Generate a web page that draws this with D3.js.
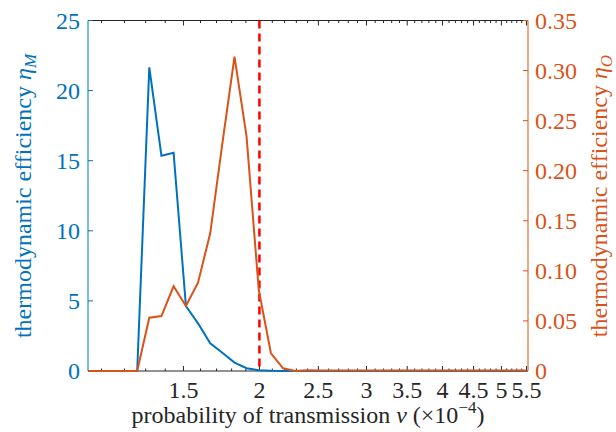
<!DOCTYPE html>
<html lang="en">
<head>
<meta charset="UTF-8">
<title>Thermodynamic efficiency vs probability of transmission</title>
<script src="https://d3js.org/d3.v7.min.js"></script>
<style>
    body { margin: 0; background: #fff; }
    text { font-family: "Liberation Serif", "Times New Roman", serif; }
</style>
</head>
<body>
<svg id="chart" width="616" height="432"></svg>
<script>
    // probability of transmission (x 1e-4), log-spaced samples
    const nu = [1.047, 1.096, 1.148, 1.202, 1.259, 1.318, 1.380, 1.445, 1.514, 1.585,
                1.660, 1.738, 1.820, 1.905, 1.995, 2.089, 2.188, 2.291, 2.399, 2.512,
                2.630, 2.754, 2.884, 3.020, 3.162, 3.311, 3.467, 3.631, 3.802, 3.981,
                4.169, 4.365, 4.571, 4.786, 5.012, 5.248, 5.495];
    // eta_M (left axis)
    const etaM = [0, 0, 0, 0, 0, 21.66, 15.36, 15.57, 4.64, 3.40,
                  1.97, 1.30, 0.60, 0.20, 0.05, 0.01, 0, 0, 0, 0,
                  0, 0, 0, 0, 0, 0, 0, 0, 0, 0,
                  0, 0, 0, 0, 0, 0, 0];
    // eta_O (right axis)
    const etaO = [0, 0, 0, 0, 0, 0.0532, 0.0549, 0.0846, 0.0649, 0.0882,
                  0.1375, 0.227, 0.314, 0.234, 0.0809, 0.0177, 0.0027, 0, 0.0008, 0.0005,
                  0.0005, 0.0005, 0.0005, 0.0005, 0.0005, 0.0005, 0.0005, 0.0005, 0.0005, 0.0005,
                  0.0005, 0.0005, 0.0005, 0.0005, 0.0005, 0.0005, 0.0005];
    const threshold = 2;

    const xTicks = [1.5, 2, 2.5, 3, 3.5, 4, 4.5, 5, 5.5];
    const xTickLabels = ["1.5", "2", "2.5", "3", "3.5", "4", "4.5", "5", "5.5"];
    const leftTicks = [0, 5, 10, 15, 20, 25];
    const rightTicks = [0, 0.05, 0.10, 0.15, 0.20, 0.25, 0.30, 0.35];
    const rightTickLabels = ["0", "0.05", "0.10", "0.15", "0.20", "0.25", "0.30", "0.35"];

    const blue = "#0072BD", orange = "#D95319", axisCol = "#262626";
    const L = 88, R = 528, T = 20.5, B = 371;

    const svg = d3.select("#chart");
    const x = d3.scaleLog().domain([1.045, 5.53]).range([L, R]);
    const yL = d3.scaleLinear().domain([0, 25]).range([B, T]);
    const yR = d3.scaleLinear().domain([0, 0.35]).range([B, T]);

    // minor ticks every 0.1
    const minor = d3.range(11, 56).map(d => d / 10).filter(d => !xTicks.includes(d));

    // bottom and top axes
    const gx = svg.append("g");
    gx.append("line").attr("x1", L).attr("x2", R).attr("y1", B).attr("y2", B)
        .attr("stroke", axisCol);
    gx.append("line").attr("x1", L).attr("x2", R).attr("y1", T).attr("y2", T)
        .attr("stroke", axisCol);
    [[B, -1], [T, 1]].forEach(([yy, dir]) => {
        gx.selectAll(null).data(minor).enter().append("line")
            .attr("x1", d => x(d)).attr("x2", d => x(d))
            .attr("y1", yy).attr("y2", yy + dir * 2.5)
            .attr("stroke", axisCol);
        gx.selectAll(null).data(xTicks).enter().append("line")
            .attr("x1", d => x(d)).attr("x2", d => x(d))
            .attr("y1", yy).attr("y2", yy + dir * 5)
            .attr("stroke", axisCol);
    });
    gx.selectAll(null).data(xTicks).enter().append("text")
        .attr("x", d => x(d)).attr("y", 398)
        .attr("text-anchor", "middle").attr("font-size", 24).attr("fill", axisCol)
        .text((d, i) => xTickLabels[i]);

    // left axis
    const gl = svg.append("g");
    gl.append("line").attr("x1", L).attr("x2", L).attr("y1", T).attr("y2", B)
        .attr("stroke", blue);
    gl.selectAll(null).data(leftTicks).enter().append("line")
        .attr("x1", L).attr("x2", L + 5).attr("y1", d => yL(d)).attr("y2", d => yL(d))
        .attr("stroke", blue);
    gl.selectAll(null).data(leftTicks).enter().append("text")
        .attr("x", 80).attr("y", d => yL(d)).attr("dy", "0.35em")
        .attr("text-anchor", "end").attr("font-size", 24).attr("fill", blue)
        .text(d => d);

    // right axis
    const gr = svg.append("g");
    gr.append("line").attr("x1", R).attr("x2", R).attr("y1", T).attr("y2", B)
        .attr("stroke", orange);
    gr.selectAll(null).data(rightTicks).enter().append("line")
        .attr("x1", R).attr("x2", R - 5).attr("y1", d => yR(d)).attr("y2", d => yR(d))
        .attr("stroke", orange);
    gr.selectAll(null).data(rightTicks).enter().append("text")
        .attr("x", 535).attr("y", d => yR(d)).attr("dy", "0.35em")
        .attr("text-anchor", "start").attr("font-size", 24).attr("fill", orange)
        .text((d, i) => rightTickLabels[i]);

    // threshold line
    svg.append("line")
        .attr("x1", x(threshold)).attr("x2", x(threshold))
        .attr("y1", T).attr("y2", B)
        .attr("stroke", "#FF0000").attr("stroke-width", 2.5)
        .attr("stroke-dasharray", "8,5");

    // series
    const lineM = d3.line().x((d, i) => x(nu[i])).y(d => yL(d));
    const lineO = d3.line().x((d, i) => x(nu[i])).y(d => yR(d));
    svg.append("path").datum(etaM).attr("d", lineM)
        .attr("fill", "none").attr("stroke", blue).attr("stroke-width", 2);
    svg.append("path").datum(etaO).attr("d", lineO)
        .attr("fill", "none").attr("stroke", orange).attr("stroke-width", 2);

    // axis labels
    const xl = svg.append("text").attr("x", (L + R) / 2).attr("y", 423)
        .attr("text-anchor", "middle").attr("font-size", 24).attr("fill", axisCol);
    xl.append("tspan").text("probability of transmission ");
    xl.append("tspan").attr("font-style", "italic").text("v");
    xl.append("tspan").text(" (×10");
    xl.append("tspan").attr("font-size", 17).attr("dy", -10).text("−4");
    xl.append("tspan").attr("dy", 10).text(")");

    const yl = svg.append("text").attr("transform", "translate(31,196) rotate(-90)")
        .attr("text-anchor", "middle").attr("font-size", 24).attr("fill", blue);
    yl.append("tspan").text("thermodynamic efficiency ");
    yl.append("tspan").attr("font-style", "italic").text("η");
    yl.append("tspan").attr("font-style", "italic").attr("font-size", 17).attr("dy", 5).text("M");

    const yr = svg.append("text").attr("transform", "translate(607,196) rotate(-90)")
        .attr("text-anchor", "middle").attr("font-size", 24).attr("fill", orange);
    yr.append("tspan").text("thermodynamic efficiency ");
    yr.append("tspan").attr("font-style", "italic").text("η");
    yr.append("tspan").attr("font-style", "italic").attr("font-size", 17).attr("dy", 5).text("O");
</script>
</body>
</html>
